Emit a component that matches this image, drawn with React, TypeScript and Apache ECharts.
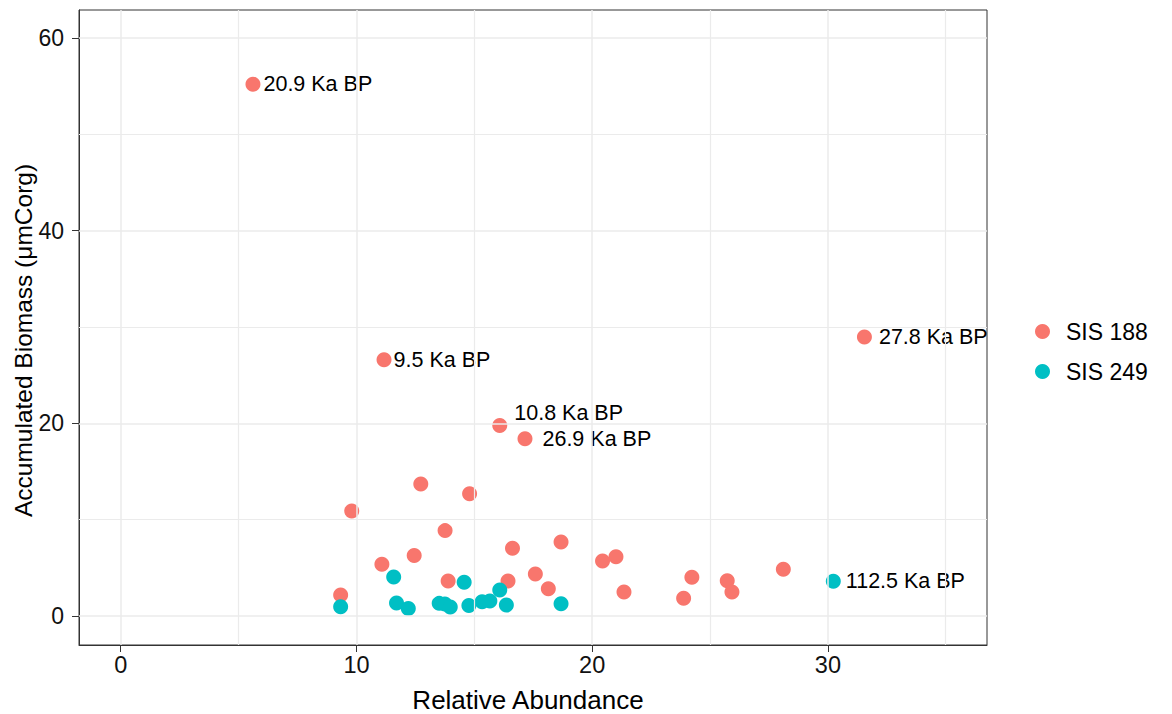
import React, { useEffect, useRef } from "react";
import * as echarts from "echarts";

// Relative abundance (x) vs accumulated biomass in µmCorg (y), per core
const sis188: [number, number][] = [
  [5.61, 55.2], [11.17, 26.6], [16.08, 19.78], [17.15, 18.4], [31.55, 28.97],
  [9.8, 10.9], [12.73, 13.7], [14.8, 12.7], [13.76, 8.87], [12.45, 6.3],
  [11.08, 5.37], [16.62, 7.04], [18.68, 7.69], [9.33, 2.2], [13.89, 3.64],
  [16.43, 3.64], [17.59, 4.37], [18.14, 2.84], [20.44, 5.72], [21.01, 6.17],
  [21.35, 2.49], [24.23, 4.02], [23.88, 1.84], [25.73, 3.67], [25.93, 2.49],
  [28.11, 4.85],
];
const sis188Ages: string[] = [
  "20.9 Ka BP", "9.5 Ka BP", "10.8 Ka BP", "26.9 Ka BP", "27.8 Ka BP",
  "", "", "", "", "", "", "", "", "", "", "", "", "", "", "", "", "", "", "", "", "",
];

const sis249: [number, number][] = [
  [9.33, 0.97], [11.58, 4.05], [11.7, 1.35], [12.2, 0.8], [13.51, 1.32],
  [13.75, 1.25], [13.98, 0.94], [14.57, 3.5], [14.77, 1.11], [15.33, 1.49],
  [15.66, 1.56], [16.08, 2.7], [16.36, 1.14], [18.68, 1.28], [30.23, 3.61],
];
const sis249Ages: string[] = [
  "", "", "", "", "", "", "", "", "", "", "", "", "", "", "112.5 Ka BP",
];

const seriesNames = ["SIS 188", "SIS 249"];
const xTicks = [0, 10, 20, 30];
const xMinorGrid = [5, 15, 25, 35];
const yTicks = [0, 20, 40, 60];
const yMinorGrid = [10, 30, 50];
const xRange = [-1.77, 36.75];
const yRange = [-3.0, 62.9];

// placement of the age annotations next to their points
const labelPlacement: Record<string, { distance: number; dy: number }> = {
  "20.9 Ka BP": { distance: 3, dy: 0 },
  "9.5 Ka BP": { distance: 2, dy: 0 },
  "10.8 Ka BP": { distance: 7, dy: -12 },
  "26.9 Ka BP": { distance: 10, dy: 0 },
  "27.8 Ka BP": { distance: 7, dy: 0 },
  "112.5 Ka BP": { distance: 5, dy: 0 },
};

const FONT = "'Liberation Sans', Arial, Helvetica, sans-serif";
const RED = "#F8766D";
const TEAL = "#00BFC4";
const GRID_COLOR = "#EBEBEB";
const INK = "#333333";

function buildData(points: [number, number][], ages: string[]) {
  return points.map((p, i) => {
    const age = ages[i];
    if (!age) return { value: p };
    const place = labelPlacement[age] || { distance: 4, dy: 0 };
    return {
      value: p,
      name: age,
      label: {
        show: true,
        position: "right",
        distance: place.distance,
        offset: [0, place.dy],
        formatter: age,
        color: "#000",
        fontSize: 21.5,
        fontFamily: FONT,
      },
    };
  });
}

export default function App() {
  const ref = useRef<HTMLDivElement>(null);

  useEffect(() => {
    if (!ref.current) return;
    const chart = echarts.init(ref.current, null, { renderer: "svg" });

    const gridLines = [
      ...xTicks.map((v) => ({ xAxis: v, lineStyle: { width: 1.5 } })),
      ...xMinorGrid.map((v) => ({ xAxis: v, lineStyle: { width: 1.2 } })),
      ...yTicks.map((v) => ({ yAxis: v, lineStyle: { width: 1.5 } })),
      ...yMinorGrid.map((v) => ({ yAxis: v, lineStyle: { width: 1.2 } })),
    ];

    chart.setOption({
      animation: false,
      backgroundColor: "#ffffff",
      textStyle: { fontFamily: FONT },
      grid: {
        left: 79,
        right: 185,
        top: 10,
        bottom: 69,
        outerBoundsMode: "none",
        containLabel: false,
        show: true,
        borderColor: INK,
        borderWidth: 1,
        backgroundColor: "transparent",
      },
      legend: {
        data: seriesNames,
        orient: "vertical",
        left: 1030,
        top: 315,
        icon: "circle",
        itemWidth: 15,
        itemHeight: 15,
        itemGap: 17,
        textStyle: {
          fontSize: 23,
          color: "#000",
          fontFamily: FONT,
          padding: [0, 0, 0, 11],
        },
      },
      xAxis: {
        type: "value",
        min: xRange[0],
        max: xRange[1],
        name: "Relative Abundance",
        nameLocation: "middle",
        nameGap: 42,
        nameMoveOverlap: false,
        nameTextStyle: {
          fontSize: 26,
          color: "#000",
          fontFamily: FONT,
          padding: [0, 10, 0, 0],
        },
        axisLine: { show: true, onZero: false, lineStyle: { color: INK, width: 1 } },
        axisTick: { show: true, length: 7, customValues: xTicks, lineStyle: { color: INK, width: 1 } },
        axisLabel: {
          customValues: xTicks,
          fontSize: 23.5,
          color: "#111",
          margin: 8,
          fontFamily: FONT,
        },
        splitLine: { show: false },
      },
      yAxis: {
        type: "value",
        min: yRange[0],
        max: yRange[1],
        name: "Accumulated Biomass (μmCorg)",
        nameLocation: "middle",
        nameGap: 43,
        nameMoveOverlap: false,
        nameRotate: 90,
        nameTextStyle: {
          fontSize: 24.5,
          color: "#000",
          fontFamily: FONT,
          padding: [0, 26, 0, 0],
        },
        axisLine: { show: true, onZero: false, lineStyle: { color: INK, width: 1 } },
        axisTick: { show: true, length: 7, customValues: yTicks, lineStyle: { color: INK, width: 1 } },
        axisLabel: {
          customValues: yTicks,
          fontSize: 23,
          color: "#111",
          margin: 15,
          fontFamily: FONT,
        },
        splitLine: { show: false },
      },
      series: [
        {
          name: "panel-grid",
          type: "scatter",
          data: [],
          silent: true,
          z: 1,
          markLine: {
            silent: true,
            symbol: ["none", "none"],
            label: { show: false },
            lineStyle: { color: GRID_COLOR, type: "solid" },
            emphasis: { disabled: true },
            data: gridLines,
          },
        },
        {
          name: seriesNames[0],
          type: "scatter",
          symbol: "circle",
          symbolSize: 15,
          itemStyle: { color: RED, opacity: 1 },
          z: 3,
          data: buildData(sis188, sis188Ages),
        },
        {
          name: seriesNames[1],
          type: "scatter",
          symbol: "circle",
          symbolSize: 15,
          itemStyle: { color: TEAL, opacity: 1 },
          z: 3,
          data: buildData(sis249, sis249Ages),
        },
      ],
    });

    return () => chart.dispose();
  }, []);

  return (
    <div
      ref={ref}
      style={{ position: "absolute", left: 0, top: 0, width: 1172, height: 714 }}
    />
  );
}
